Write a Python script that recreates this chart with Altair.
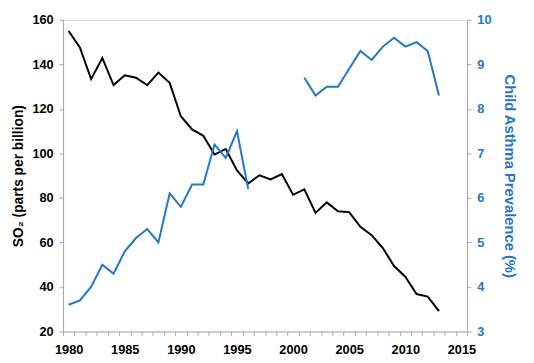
import altair as alt
import pandas as pd

years = list(range(1980, 2014))
so2 = [155.0, 147.6, 133.4, 142.9, 130.7, 135.1, 134.0, 130.7, 136.3, 131.7,
       116.7, 110.8, 107.9, 99.5, 102.0, 92.4, 86.5, 90.2, 88.3, 90.7,
       81.4, 83.9, 73.3, 78.0, 74.0, 73.6, 67.0, 63.3, 57.5, 49.4,
       44.6, 36.8, 35.7, 29.1]
asthma = [3.6, 3.7, 4.0, 4.5, 4.3, 4.8, 5.1, 5.3, 5.0, 6.1,
          5.8, 6.3, 6.3, 7.2, 6.9, 7.5, 6.2, None, None, None,
          None, 8.7, 8.3, 8.5, 8.5, 8.9, 9.3, 9.1, 9.4, 9.6,
          9.4, 9.5, 9.3, 8.3]

so2_df = pd.DataFrame({"year": years, "so2": so2})
rows = []
for y, v in zip(years, asthma):
    if v is not None:
        rows.append({"year": y, "asthma": v, "seg": "a" if y < 1997 else "b"})
as_df = pd.DataFrame(rows)

BLUE = "#1f77c9"
GRAY = "#a6a6a6"
FONT = "Liberation Sans"

xscale = alt.Scale(domain=[1979.5, 2015.5], nice=False, zero=False)
tick_vals = [y + 0.5 for y in range(1979, 2016)]
xaxis = alt.Axis(
    values=tick_vals,
    labelExpr="(datum.value + 0.5) % 5 == 0 ? format(datum.value + 0.5, 'd') : ''",
    labelOffset=5.7,
    grid=False, title=None, domainColor=GRAY, tickColor=GRAY, tickSize=4,
    labelFont=FONT, labelFontSize=13, labelFontWeight="bold", labelColor="#000000",
    labelPadding=8, labelFlush=False, labelOverlap=False,
)

left = alt.Chart(so2_df).mark_line(color="#000000", strokeWidth=2).encode(
    x=alt.X("year:Q", scale=xscale, axis=xaxis),
    y=alt.Y("so2:Q", scale=alt.Scale(domain=[20, 160], nice=False, zero=False),
            axis=alt.Axis(values=list(range(20, 161, 20)), grid=False,
                          title="SO₂ (parts per billion)",
                          titleFont=FONT, titleFontSize=14, titleFontWeight="bold",
                          titleColor="#000000", titlePadding=7,
                          labelFont=FONT, labelFontSize=13, labelFontWeight="bold",
                          labelColor="#000000", labelPadding=6,
                          domainColor=GRAY, tickColor=GRAY, tickSize=4)),
)

right = alt.Chart(as_df).mark_line(color=BLUE, strokeWidth=2).encode(
    x=alt.X("year:Q", scale=xscale, axis=xaxis),
    y=alt.Y("asthma:Q", scale=alt.Scale(domain=[3, 10], nice=False, zero=False),
            axis=alt.Axis(orient="right", values=list(range(3, 11)), grid=False,
                          title="Child Asthma Prevalence (%)",
                          titleFont=FONT, titleFontSize=15, titleFontWeight="bold",
                          titleColor=BLUE, titlePadding=11,
                          labelFont=FONT, labelFontSize=13, labelFontWeight="bold",
                          labelColor=BLUE, labelPadding=6,
                          domainColor=GRAY, tickColor=GRAY, tickSize=4)),
    detail="seg:N",
)

chart = alt.layer(left, right).resolve_scale(y="independent").properties(
    width=411, height=317,
    autosize=alt.AutoSizeParams(type="none"),
    padding={"left": 56, "top": 9, "right": 60, "bottom": 30},
).configure_view(stroke=None).configure(background="white")

chart.save("out.html", embed_options={"renderer": "svg", "actions": False})
